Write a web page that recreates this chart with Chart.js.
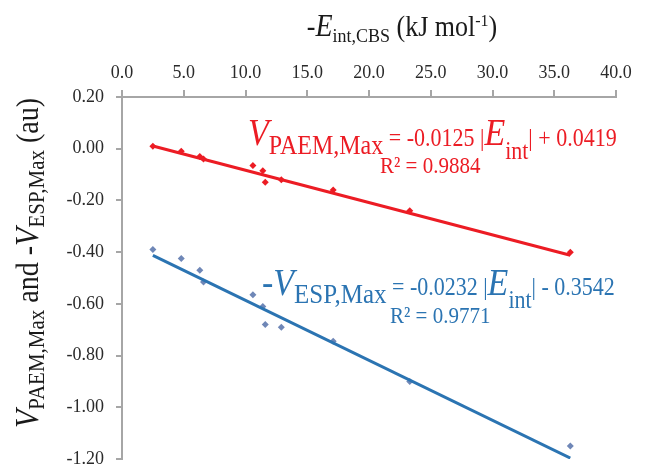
<!DOCTYPE html>
<html lang="en">
<head>
  <meta charset="UTF-8" />
  <title>V_PAEM,Max and -V_ESP,Max vs -E_int,CBS</title>
  <script src="https://cdn.jsdelivr.net/npm/chart.js"></script>
  <style>
    html, body { margin: 0; padding: 0; background: #fff; }
    #wrap { width: 646px; height: 468px; position: relative; }
  </style>
</head>
<body>
  <div id="wrap"><canvas id="chart"></canvas></div>

  <script>
    // -E_int,CBS (kJ mol-1), shared by both series
    const eInt = [2.5, 4.8, 6.3, 6.6, 10.6, 11.4, 11.6, 12.9, 17.1, 23.3, 36.3];
    // V_PAEM,Max (au)
    const vPaem = [0.01, -0.01, -0.03, -0.04, -0.065, -0.085, -0.13, -0.12, -0.16, -0.24, -0.40];
    // -V_ESP,Max (au)
    const vEsp = [-0.39, -0.425, -0.47, -0.515, -0.565, -0.61, -0.68, -0.69, -0.745, -0.90, -1.15];

    // trend line equations as printed on the chart
    const paemFit = { slope: -0.0125, intercept: 0.0419 };
    const espFit = { slope: -0.0232, intercept: -0.3542 };

    const xTicks = [0, 5, 10, 15, 20, 25, 30, 35, 40];
    const yTicks = [0.2, 0, -0.2, -0.4, -0.6, -0.8, -1.0, -1.2];

    const RED = '#ec1c24';
    const BLUE = '#2b74b2';
    const BLUE_PT = '#6f87b7';
    const AXIS = '#a6a6a6';
    const FONT = "'Liberation Serif', 'Times New Roman', serif";
    const SY = 1.1; // text in the original is a bit stretched vertically

    function pts(xs, ys) {
      return xs.map((x, i) => ({ x: x, y: ys[i] }));
    }
    function fitLine(fit) {
      const x0 = eInt[0], x1 = eInt[eInt.length - 1];
      return [
        { x: x0, y: fit.slope * x0 + fit.intercept },
        { x: x1, y: fit.slope * x1 + fit.intercept }
      ];
    }

    // draws a run of text pieces (sub/superscripts, italics) from x on baseline y
    function richWidth(ctx, parts) {
      let w = 0;
      parts.forEach(p => {
        ctx.font = (p.i ? 'italic ' : '') + p.s + 'px ' + FONT;
        w += ctx.measureText(p.t).width;
      });
      return w;
    }
    function drawRich(ctx, x, y, parts, color) {
      let cx = x;
      ctx.fillStyle = color;
      ctx.textBaseline = 'alphabetic';
      ctx.textAlign = 'left';
      parts.forEach(p => {
        ctx.font = (p.i ? 'italic ' : '') + p.s + 'px ' + FONT;
        ctx.save();
        ctx.translate(cx, y + (p.dy || 0));
        ctx.scale(1, SY);
        ctx.fillText(p.t, 0, 0);
        ctx.restore();
        cx += ctx.measureText(p.t).width;
      });
    }

    const xTitle = [
      { t: '-', s: 26 },
      { t: 'E', s: 28, i: true },
      { t: 'int,CBS', s: 18, dy: 6 },
      { t: ' (kJ mol', s: 26 },
      { t: '-1', s: 16, dy: -10 },
      { t: ')', s: 26 }
    ];
    const yTitle = [
      { t: 'V', s: 30, i: true },
      { t: 'PAEM,Max', s: 21, dy: 6 },
      { t: ' and -', s: 28 },
      { t: 'V', s: 30, i: true },
      { t: 'ESP,Max', s: 21, dy: 6 },
      { t: ' (au)', s: 28 }
    ];
    const paemEq = [
      { t: 'V', s: 34, i: true },
      { t: 'PAEM,Max', s: 24, dy: 9 },
      { t: ' = -0.0125 |', s: 22, dy: 1 },
      { t: 'E', s: 34, i: true },
      { t: 'int', s: 22, dy: 14 },
      { t: '| + 0.0419', s: 22, dy: 1 }
    ];
    const espEq = [
      { t: '-V', s: 34, i: true },
      { t: 'ESP,Max', s: 25, dy: 8 },
      { t: ' = -0.0232 |', s: 22 },
      { t: 'E', s: 34, i: true },
      { t: 'int', s: 22, dy: 13 },
      { t: '| - 0.3542', s: 22 }
    ];

    const textPlugin = {
      id: 'richText',
      afterDraw(chart) {
        const ctx = chart.ctx;
        ctx.save();
        // x axis title, centred over the axis
        const wx = richWidth(ctx, xTitle);
        drawRich(ctx, 402 - wx / 2, 36, xTitle, '#1a1a1a');
        // y axis title, rotated
        const wy = richWidth(ctx, yTitle);
        ctx.save();
        ctx.translate(38, 263 + wy / 2);
        ctx.rotate(-Math.PI / 2);
        drawRich(ctx, 0, 0, yTitle, '#1a1a1a');
        ctx.restore();
        // trend line labels
        drawRich(ctx, 248, 145, paemEq, RED);
        drawRich(ctx, 380, 173, [{ t: 'R² = 0.9884', s: 21 }], RED);
        drawRich(ctx, 262, 295, espEq, BLUE);
        drawRich(ctx, 390, 323, [{ t: 'R² = 0.9771', s: 21 }], BLUE);
        ctx.restore();
      }
    };

    const ctx = document.getElementById('chart').getContext('2d');
    new Chart(ctx, {
      type: 'scatter',
      data: {
        datasets: [
          {
            label: 'PAEM fit',
            type: 'line',
            data: fitLine(paemFit),
            borderColor: RED,
            borderWidth: 3,
            pointRadius: 0,
            fill: false
          },
          {
            label: 'ESP fit',
            type: 'line',
            data: fitLine(espFit),
            borderColor: BLUE,
            borderWidth: 3,
            pointRadius: 0,
            fill: false
          },
          {
            label: 'V PAEM,Max',
            data: pts(eInt, vPaem),
            pointStyle: 'rectRot',
            pointRadius: 3.5,
            backgroundColor: RED,
            borderColor: RED,
            borderWidth: 0
          },
          {
            label: '-V ESP,Max',
            data: pts(eInt, vEsp),
            pointStyle: 'rectRot',
            pointRadius: 3.5,
            backgroundColor: BLUE_PT,
            borderColor: BLUE_PT,
            borderWidth: 0
          }
        ]
      },
      options: {
        responsive: true,
        maintainAspectRatio: false,
        animation: false,
        layout: { padding: { left: 0, top: 0, right: 30, bottom: 9 } },
        plugins: {
          legend: { display: false },
          tooltip: { enabled: false }
        },
        scales: {
          x: {
            type: 'linear',
            position: 'top',
            min: 0,
            max: 40,
            afterBuildTicks: s => { s.ticks = xTicks.map(v => ({ value: v })); },
            afterFit: s => {
              s.height = 97;
              s.paddingLeft = 0;
              s.paddingRight = 0;
            },
            ticks: {
              padding: 6,
              color: '#2a2a2a',
              font: { family: FONT, size: 18 },
              callback: v => v.toFixed(1)
            },
            grid: { drawOnChartArea: false, drawTicks: true, tickLength: 7, color: AXIS, lineWidth: 2 },
            border: { display: true, color: AXIS, width: 2 }
          },
          y: {
            type: 'linear',
            min: -1.2,
            max: 0.2,
            afterBuildTicks: s => { s.ticks = yTicks.map(v => ({ value: v })); },
            afterFit: s => {
              s.width = 122;
              s.paddingTop = 0;
              s.paddingBottom = 0;
            },
            ticks: {
              padding: 12,
              color: '#2a2a2a',
              font: { family: FONT, size: 18 },
              callback: v => v.toFixed(2)
            },
            grid: { drawOnChartArea: false, drawTicks: true, tickLength: 6, color: AXIS, lineWidth: 2 },
            border: { display: true, color: AXIS, width: 2 }
          }
        }
      },
      plugins: [textPlugin]
    });
  </script>
</body>
</html>
